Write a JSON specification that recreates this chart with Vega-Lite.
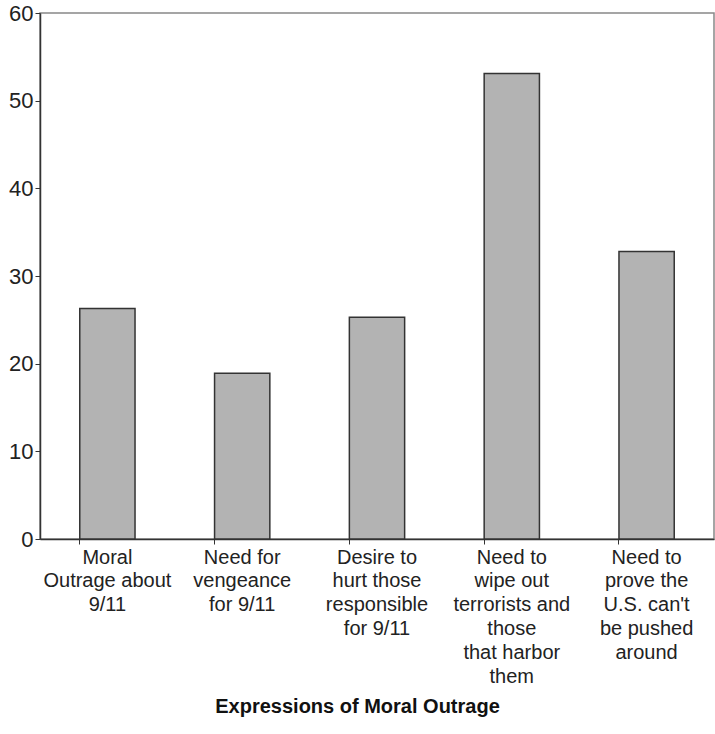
{
  "$schema": "https://vega.github.io/schema/vega-lite/v6.json",
  "width": 674,
  "height": 526,
  "autosize": {"type": "none"},
  "padding": {"left": 40, "top": 13, "right": 1, "bottom": 195},
  "background": "white",
  "data": {
    "values": [
      {"category": "Moral\nOutrage about\n9/11", "value": 26.3},
      {"category": "Need for\nvengeance\nfor 9/11", "value": 18.9},
      {"category": "Desire to\nhurt those\nresponsible\nfor 9/11", "value": 25.3},
      {"category": "Need to\nwipe out\nterrorists and\nthose\nthat harbor\nthem", "value": 53.1},
      {"category": "Need to\nprove the\nU.S. can't\nbe pushed\naround", "value": 32.8}
    ]
  },
  "mark": {"type": "bar", "fill": "#b3b3b3", "stroke": "#333333", "strokeWidth": 1.5},
  "encoding": {
    "x": {
      "field": "category",
      "type": "nominal",
      "sort": null,
      "scale": {"paddingInner": 0.59, "paddingOuter": 0.295},
      "axis": {
        "title": "Expressions of Moral Outrage",
        "titleFont": "Liberation Sans",
        "titleFontSize": 20,
        "titleFontWeight": "bold",
        "titleColor": "#111111",
        "titlePadding": 10,
        "titleX": 317,
        "titleAlign": "center",
        "labelExpr": "split(datum.label, '\\n')",
        "labelAngle": 0,
        "labelFont": "Liberation Sans",
        "labelFontSize": 20,
        "labelColor": "#222222",
        "labelLineHeight": 23.8,
        "labelPadding": 3,
        "labelBaseline": "top",
        "domainColor": "#333333",
        "domainWidth": 1.5,
        "ticks": true,
        "bandPosition": 0,
        "tickColor": "#333333",
        "tickSize": 5,
        "grid": false
      }
    },
    "y": {
      "field": "value",
      "type": "quantitative",
      "scale": {"domain": [0, 60], "nice": false},
      "axis": {
        "title": null,
        "values": [0, 10, 20, 30, 40, 50, 60],
        "labelFont": "Liberation Sans",
        "labelFontSize": 22,
        "labelColor": "#222222",
        "labelPadding": 2,
        "domainColor": "#333333",
        "domainWidth": 1.5,
        "tickColor": "#333333",
        "tickSize": 5,
        "grid": false
      }
    }
  },
  "config": {
    "view": {"stroke": "#888888", "strokeWidth": 1.5}
  }
}
